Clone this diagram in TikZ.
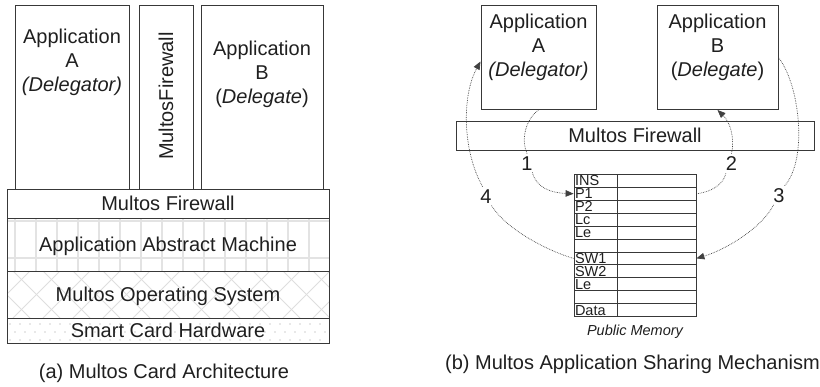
\documentclass[tikz,border=0pt]{standalone}
\usepackage{fontspec}
\setmainfont{Liberation Sans}
\usetikzlibrary{arrows.meta,calc}
\begin{document}
\begin{tikzpicture}[x=1pt,y=-1pt,
  box/.style={draw=black!78, line width=1pt, inner sep=0pt, text=black!88,
    font=\fontsize{20}{24}\selectfont, text height=14.4pt, text depth=0pt},
  txt/.style={inner sep=0pt, font=\fontsize{20}{24}\selectfont, align=center, text=black!88},
  num/.style={inner sep=2pt, font=\fontsize{20}{24}\selectfont, text=black!88, text height=14.4pt, text depth=0pt},
  cell/.style={draw=black!78, line width=0.8pt, inner xsep=1pt, inner ysep=0pt, text width=41pt,
    minimum height=12.94pt, align=left, text=black!88, font=\fontsize{14.5}{14.5}\selectfont,
    text height=10.4pt, text depth=0pt},
  vcell/.style={draw=black!78, line width=0.8pt, inner sep=0pt, minimum width=79pt, minimum height=12.94pt},
  conn/.style={densely dotted, line width=0.7pt, draw=black!75},
  tip/.style={-{Triangle[length=8pt,width=6.5pt]}},
  gridc/.style={draw=black!11, line width=1.8pt},
  hatch/.style={draw=black!13, line width=0.9pt},
]
\useasboundingbox (0,0) rectangle (820,386);

% ---------- patterns (left panel) ----------
\begin{scope}
  \clip (7,218) rectangle (329,271);
  \foreach \x in {15,36,...,330} \draw[gridc] (\x,218) -- (\x,271);
  \draw[gridc] (7,221) -- (329,221);
  \draw[gridc] (7,258) -- (329,258);
\end{scope}
\begin{scope}
  \clip (7,271) rectangle (329,318);
  \foreach \x in {-47,-17,...,340} {
    \draw[hatch] (\x,271) -- ++(47,47);
    \draw[hatch] (\x,318) -- ++(47,-47);
  }
\end{scope}
\begin{scope}
  \clip (7,318) rectangle (329,343);
  \foreach \x in {10,20,...,330} {
    \fill[black!18] (\x,324) circle (0.8);
    \fill[black!18] (\x+5,332) circle (0.8);
    \fill[black!18] (\x,340) circle (0.8);
  }
\end{scope}

% ---------- left panel: Multos card architecture ----------
\node[box, minimum width=114pt, minimum height=184pt] (lA) at (72,97) {};
\node[box, minimum width=54pt, minimum height=184pt] (lFW) at (166,97) {};
\node[box, minimum width=122pt, minimum height=184pt] (lB) at (262,97) {};
\node[txt, anchor=north] (lAt) at (72,28.7) {Application\\A\\\textit{(Delegator)}};
\node[txt, rotate=90] (lFWt) at (166,96) {MultosFirewall};
\node[txt, anchor=north] (lBt) at (262,40.4) {Application\\B\\(\textit{Delegate})};

\node[box, minimum width=322pt, minimum height=29pt] (L1) at (168,203.5) {Multos Firewall};
\node[box, minimum width=322pt, minimum height=53pt] (L2) at (168,244.5) {Application Abstract Machine};
\node[box, minimum width=322pt, minimum height=47pt] (L3) at (168,294.5) {Multos Operating System};
\node[box, minimum width=322pt, minimum height=25pt] (L4) at (168,330.5) {Smart Card Hardware};

\node[txt, anchor=base] (capa) at (164,378.3) {(a) Multos Card Architecture};

% ---------- right panel: application sharing ----------
\node[box, minimum width=115pt, minimum height=104pt] (rA) at (538.5,57.5) {};
\node[box, minimum width=121pt, minimum height=104pt] (rB) at (717.5,57.5) {};
\node[txt, anchor=north] (rAt) at (538.5,13.7) {Application\\A\\\textit{(Delegator)}};
\node[txt, anchor=north] (rBt) at (717.5,13.7) {Application\\B\\(\textit{Delegate})};
\node[box, minimum width=358pt, minimum height=29pt] (rFW) at (635,135.5) {Multos Firewall};

\foreach \lab [count=\i] in {INS,P1,P2,Lc,Le,{},SW1,SW2,Le,{},Data} {
  \node[cell] (m\i) at (595.5,{167.83+12.94*\i}) {\lab};
  \node[vcell] (v\i) at (656.5,{167.83+12.94*\i}) {};
}
\node[inner sep=0pt, anchor=base, text=black!88, font=\fontsize{14.5}{17}\selectfont\itshape] (pm) at (635,335) {Public Memory};

\node[num] (n1) at (527,163) {1};
\node[num] (n2) at (731.5,163) {2};
\node[num] (n3) at (779,195.5) {3};
\node[num] (n4) at (486,196) {4};

% arrow 1
\draw[conn] (rA.south) .. controls (525,120) and (521,140) .. (n1.north);
\draw[conn,tip] (n1.300) .. controls (536,188) and (552,193) .. (m2.west);
% arrow 2
\draw[conn] (v2.east) .. controls (712,192) and (724,184) .. (n2.240);
\draw[conn,tip] (n2.north) .. controls (735,138) and (730,122) .. (rB.south);
% arrow 3
\draw[conn] (rB.east) .. controls (800,85) and (808,160) .. (n3.60);
\draw[conn,tip] (n3.240) .. controls (762,228) and (725,250) .. (v7.east);
% arrow 4
\draw[conn] (m7.west) .. controls (545,250) and (505,228) .. (n4.300);
\draw[conn,tip] (n4.110) .. controls (462,150) and (462,95) .. ($(rA.west)+(0,4)$);

\node[txt, anchor=base west] (capb) at (445,369.3) {(b) Multos Application Sharing Mechanism};
\end{tikzpicture}
\end{document}
